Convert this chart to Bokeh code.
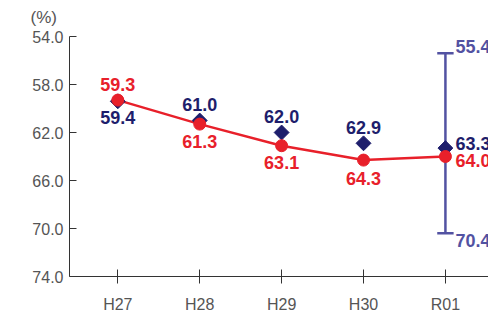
from bokeh.plotting import figure
from bokeh.models import ColumnDataSource, Range1d, FixedTicker, NumeralTickFormatter
from bokeh.core.properties import value
from bokeh.embed import file_html
from bokeh.resources import INLINE

categories = ["H27", "H28", "H29", "H30", "R01"]
red_values = [59.3, 61.3, 63.1, 64.3, 64.0]
navy_values = [59.4, 61.0, 62.0, 62.9, 63.3]
err_upper = 55.4
err_lower = 70.4
y_ticks = [54.0, 58.0, 62.0, 66.0, 70.0, 74.0]
unit_text = "(%)"

RED = "#e8202a"
NAVY = "#1e1e6c"
SLATE = "#5252a2"
FONT = "Liberation Sans"

xs = list(range(len(categories)))

p = figure(width=488, height=317, output_backend="svg", toolbar_location=None,
           x_range=Range1d(-0.59, 4.526), y_range=Range1d(74.0, 54.0),
           min_border_left=69, min_border_right=0, min_border_top=36, min_border_bottom=41)
p.outline_line_color = None
p.xgrid.visible = False
p.ygrid.visible = False
p.background_fill_color = "white"
p.border_fill_color = "white"

# unit label as title
p.title.text = unit_text
p.title.align = "left"
p.title.offset = -39
p.title.standoff = 15
p.title.vertical_align = "top"
p.title.text_font = FONT
p.title.text_font_size = "17px"
p.title.text_font_style = "normal"
p.title.text_color = "#555555"

# axes
p.yaxis.ticker = FixedTicker(ticks=y_ticks)
p.yaxis.formatter = NumeralTickFormatter(format="0.0")
p.yaxis.major_tick_in = 7
p.yaxis.major_tick_out = 0
p.yaxis.minor_tick_line_color = None
p.yaxis.axis_line_color = "#333333"
p.yaxis.major_tick_line_color = "#333333"
p.yaxis.major_label_text_font = FONT
p.yaxis.major_label_text_font_size = "16px"
p.yaxis.major_label_text_color = "#555555"
p.yaxis.major_label_standoff = 6

p.xaxis.ticker = FixedTicker(ticks=xs)
p.xaxis.major_label_overrides = {i: c for i, c in enumerate(categories)}
p.xaxis.major_tick_in = 7
p.xaxis.major_tick_out = 7
p.xaxis.minor_tick_line_color = None
p.xaxis.axis_line_color = "#333333"
p.xaxis.major_tick_line_color = "#333333"
p.xaxis.major_label_text_font = FONT
p.xaxis.major_label_text_font_size = "16px"
p.xaxis.major_label_text_color = "#555555"
p.xaxis.major_label_standoff = 12

# error bar at last category
ex = xs[-1]
p.segment(x0=[ex], y0=[err_upper], x1=[ex], y1=[err_lower], line_color=SLATE, line_width=2.5)
p.segment(x0=[ex - 0.1, ex - 0.1], y0=[err_upper, err_lower], x1=[ex + 0.1, ex + 0.1],
          y1=[err_upper, err_lower], line_color=SLATE, line_width=2.5)

# red line
p.line(xs, red_values, line_color=RED, line_width=2.5)

# navy diamonds
p.scatter(xs, navy_values, marker="square", angle=0.785398, size=10.5,
          fill_color=NAVY, line_color=NAVY)
# red circles
p.scatter(xs, red_values, marker="circle", size=12, fill_color=RED, line_color=RED)

# labels
red_src = ColumnDataSource(dict(
    x=xs, y=red_values, t=["%.1f" % v for v in red_values],
    dx=[0, 0, 0, 0, 10], dy=[-16, 17, 17, 18, 4],
    align=["center", "center", "center", "center", "left"]))
p.text(x="x", y="y", text="t", source=red_src, x_offset="dx", y_offset="dy",
       text_align="align", text_baseline="middle", text_color=RED,
       text_font=value(FONT), text_font_size="18px", text_font_style="bold")

navy_src = ColumnDataSource(dict(
    x=xs, y=navy_values, t=["%.1f" % v for v in navy_values],
    dx=[0, 0, 0, 0, 10], dy=[16, -16, -16, -16, -5],
    align=["center", "center", "center", "center", "left"]))
p.text(x="x", y="y", text="t", source=navy_src, x_offset="dx", y_offset="dy",
       text_align="align", text_baseline="middle", text_color=NAVY,
       text_font=value(FONT), text_font_size="18px", text_font_style="bold")

err_src = ColumnDataSource(dict(
    x=[ex, ex], y=[err_upper, err_lower], t=["%.1f" % err_upper, "%.1f" % err_lower],
    dy=[-7, 7]))
p.text(x="x", y="y", text="t", source=err_src, x_offset=10, y_offset="dy",
       text_align="left", text_baseline="middle", text_color=SLATE,
       text_font=value(FONT), text_font_size="18px", text_font_style="bold")

open("out.html", "w").write(file_html(p, INLINE))
